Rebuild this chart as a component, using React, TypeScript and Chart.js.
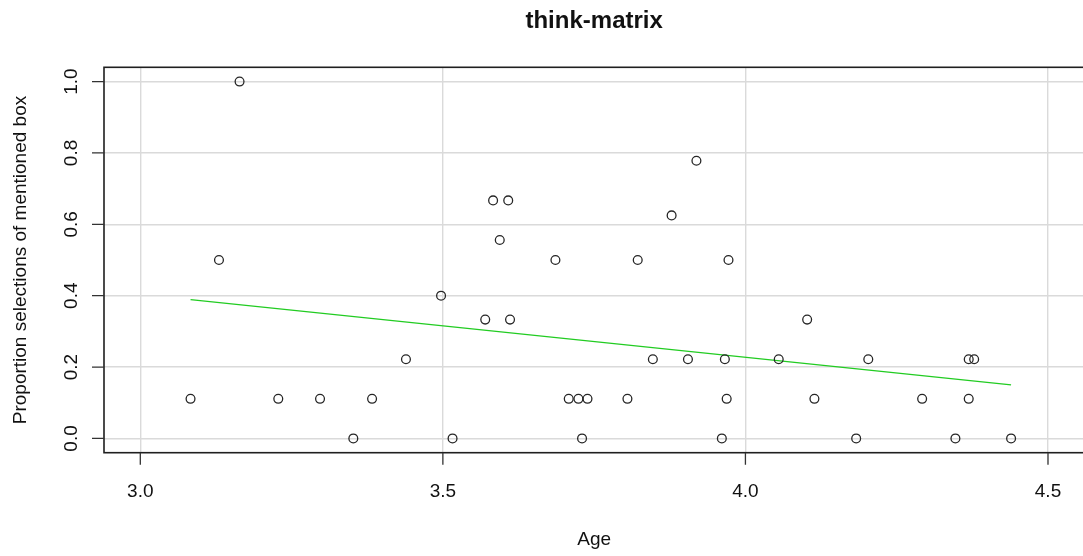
import React, { useEffect, useRef } from "react";
import { Chart, registerables } from "chart.js";

Chart.register(...registerables);

// Age of each child and the share of trials where the mentioned box was chosen
const ages = [
  3.083, 3.130, 3.164, 3.228, 3.297, 3.352, 3.383, 3.439, 3.497, 3.516,
  3.570, 3.583, 3.594, 3.608, 3.611, 3.686, 3.708, 3.724, 3.730, 3.739,
  3.805, 3.822, 3.847, 3.878, 3.905, 3.919, 3.961, 3.966, 3.969, 3.972,
  4.055, 4.102, 4.114, 4.183, 4.203, 4.292, 4.347, 4.369, 4.378, 4.369,
  4.439,
];
const proportions = [
  0.111, 0.5, 1.0, 0.111, 0.111, 0.0, 0.111, 0.222, 0.4, 0.0,
  0.333, 0.667, 0.556, 0.667, 0.333, 0.5, 0.111, 0.111, 0.0, 0.111,
  0.111, 0.5, 0.222, 0.625, 0.222, 0.778, 0.0, 0.222, 0.111, 0.5,
  0.222, 0.333, 0.111, 0.0, 0.222, 0.111, 0.0, 0.222, 0.222, 0.111,
  0.0,
];

// Least-squares fit line endpoints (over the observed age range)
const fitAges = [3.083, 4.439];
const fitValues = [0.389, 0.15];

const xTicks = [3.0, 3.5, 4.0, 4.5];
const xTickLabels = ["3.0", "3.5", "4.0", "4.5"];
const yTicks = [0, 0.2, 0.4, 0.6, 0.8, 1.0];
const yTickLabels = ["0.0", "0.2", "0.4", "0.6", "0.8", "1.0"];

const chartTitle = "think-matrix";
const xTitle = "Age";
const yTitle = "Proportion selections of mentioned box";

const FONT = '"Liberation Sans", Arial, Helvetica, sans-serif';

// Base-graphics style frame: box, outward ticks, rotated y labels, titles
const framePlugin = {
  id: "baseFrame",
  afterDraw(chart: any) {
    const { ctx, chartArea: a, scales } = chart;
    const x = scales.x;
    const y = scales.y;
    const cx = (a.left + a.right) / 2;
    const cy = (a.top + a.bottom) / 2;
    ctx.save();

    ctx.strokeStyle = "#1f1f1f";
    ctx.lineWidth = 1.6;
    ctx.strokeRect(a.left, a.top, a.right - a.left, a.bottom - a.top);

    ctx.lineWidth = 1.3;
    ctx.strokeStyle = "#333";
    ctx.beginPath();
    xTicks.forEach((v) => {
      const px = x.getPixelForValue(v);
      ctx.moveTo(px, a.bottom);
      ctx.lineTo(px, a.bottom + 12);
    });
    yTicks.forEach((v) => {
      const py = y.getPixelForValue(v);
      ctx.moveTo(a.left, py);
      ctx.lineTo(a.left - 12, py);
    });
    ctx.stroke();

    ctx.fillStyle = "#111";
    ctx.font = `19px ${FONT}`;
    ctx.textAlign = "center";
    ctx.textBaseline = "alphabetic";
    xTicks.forEach((v, i) => {
      ctx.fillText(xTickLabels[i], x.getPixelForValue(v), a.bottom + 44);
    });
    yTicks.forEach((v, i) => {
      ctx.save();
      ctx.translate(a.left - 27.3, y.getPixelForValue(v));
      ctx.rotate(-Math.PI / 2);
      ctx.fillText(yTickLabels[i], 0, 0);
      ctx.restore();
    });

    ctx.fillText(xTitle, cx, a.bottom + 92);
    ctx.save();
    ctx.translate(26, cy);
    ctx.rotate(-Math.PI / 2);
    ctx.fillText(yTitle, 0, 0);
    ctx.restore();

    ctx.font = `bold 24px ${FONT}`;
    ctx.fillText(chartTitle, cx, 27.5);
    ctx.restore();
  },
};

export default function App() {
  const canvasRef = useRef<HTMLCanvasElement | null>(null);

  useEffect(() => {
    if (!canvasRef.current) return;
    const chart = new Chart(canvasRef.current, {
      type: "scatter",
      data: {
        datasets: [
          {
            label: "children",
            data: ages.map((a, i) => ({ x: a, y: proportions[i] })),
            pointStyle: "circle",
            pointRadius: 4.4,
            pointBorderWidth: 1.3,
            pointBorderColor: "#262626",
            pointBackgroundColor: "rgba(0,0,0,0)",
            showLine: false,
          },
          {
            label: "fit",
            data: fitAges.map((a, i) => ({ x: a, y: fitValues[i] })),
            showLine: true,
            borderColor: "#22cc22",
            borderWidth: 1.3,
            pointRadius: 0,
          },
        ],
      },
      options: {
        responsive: false,
        animation: false,
        devicePixelRatio: 1,
        layout: { padding: { left: 104, top: 67.3, right: 3.6, bottom: 103.3 } },
        plugins: {
          legend: { display: false },
          tooltip: { enabled: false },
          title: { display: false },
        },
        scales: {
          x: {
            type: "linear",
            min: 2.94,
            max: 4.56,
            afterBuildTicks: (s: any) => {
              s.ticks = xTicks.map((v) => ({ value: v }));
            },
            ticks: { display: false },
            border: { display: false },
            grid: { color: "#dadada", lineWidth: 1.4, drawTicks: false, tickLength: 0 },
          },
          y: {
            type: "linear",
            min: -0.04,
            max: 1.04,
            afterBuildTicks: (s: any) => {
              s.ticks = yTicks.map((v) => ({ value: v }));
            },
            ticks: { display: false },
            border: { display: false },
            grid: { color: "#dadada", lineWidth: 1.4, drawTicks: false, tickLength: 0 },
          },
        },
      },
      plugins: [framePlugin],
    });
    return () => chart.destroy();
  }, []);

  return (
    <div
      style={{
        position: "absolute",
        left: 0,
        top: 0,
        width: 1083,
        height: 556,
        overflow: "hidden",
        background: "#fff",
      }}
    >
      <canvas ref={canvasRef} width={1090} height={556} style={{ display: "block" }} />
    </div>
  );
}
